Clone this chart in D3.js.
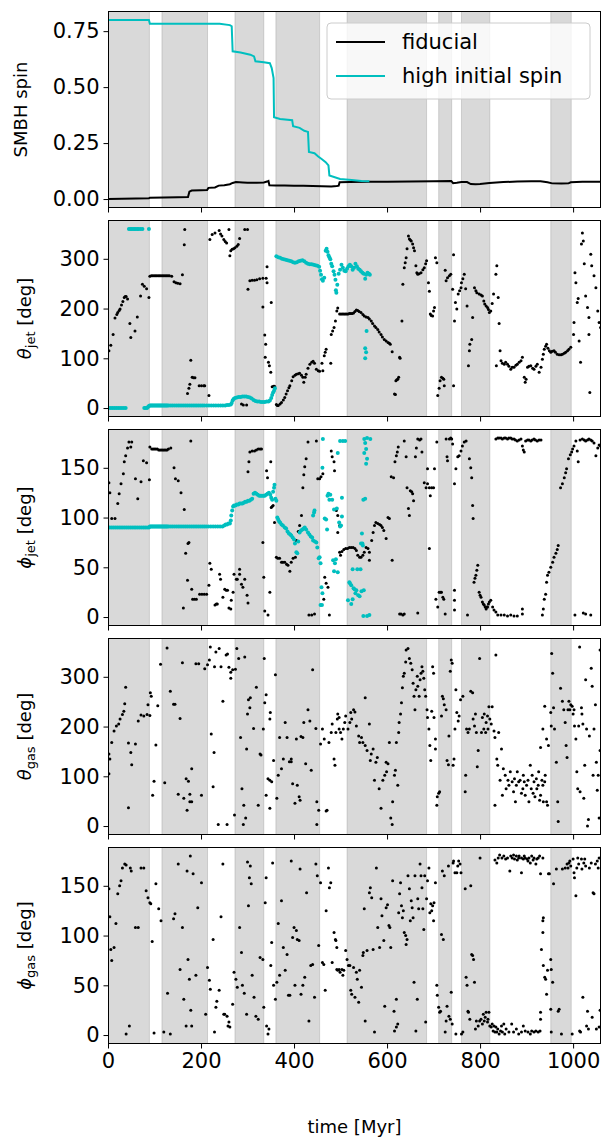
<!DOCTYPE html>
<html><head><meta charset="utf-8">
<script src="https://cdn.jsdelivr.net/npm/d3@7"></script>
<style>body{margin:0;background:#fff}svg{display:block}text{font-family:"DejaVu Sans",sans-serif}</style>
</head><body><svg id="c" width="615" height="1139"></svg>
<script>
const timeTicks=[0,200,400,600,800,1000];
const shadedSpans=[[0,89],[116,214],[273,335],[361,455],[514,685],[711,739],[760,821],[952,996]];

const spinFiducial=[[0,0.000],[30,0.001],[60,0.002],[88,0.003],[90,0.006],[120,0.007],[150,0.008],[172,0.009],[175,0.033],[180,0.038],[200,0.039],[213,0.040],[216,0.050],[230,0.052],[238,0.060],[250,0.062],[262,0.066],[268,0.072],[275,0.076],[290,0.074],[300,0.073],[320,0.073],[335,0.074],[342,0.078],[345,0.081],[347,0.062],[360,0.061],[380,0.060],[400,0.059],[420,0.059],[440,0.058],[460,0.057],[480,0.056],[492,0.058],[496,0.060],[498,0.075],[520,0.076],[560,0.077],[600,0.077],[650,0.078],[700,0.080],[738,0.081],[742,0.071],[750,0.073],[760,0.076],[772,0.076],[780,0.067],[790,0.066],[800,0.067],[820,0.072],[850,0.076],[880,0.078],[910,0.079],[930,0.079],[945,0.075],[955,0.070],[975,0.069],[990,0.070],[995,0.075],[1020,0.077],[1060,0.077]];
const spinHigh=[[0,0.800],[88,0.800],[90,0.783],[150,0.783],[200,0.783],[240,0.783],[262,0.777],[266,0.772],[268,0.660],[285,0.655],[306,0.645],[314,0.637],[317,0.615],[335,0.611],[348,0.607],[352,0.585],[356,0.540],[357,0.365],[370,0.358],[396,0.352],[398,0.325],[412,0.318],[422,0.305],[430,0.300],[432,0.210],[444,0.205],[452,0.190],[460,0.178],[468,0.165],[474,0.150],[476,0.105],[499,0.090],[524,0.085],[545,0.081],[562,0.080]];

const thetaJetFiducial=[[2,115],[6,126],[11,148],[15,181],[19,188],[21,192],[24,196],[26,199],[29,207],[32,214],[35,222],[37,224],[39,224],[42,219],[47,170],[49,142],[58,155],[63,183],[70,225],[74,249],[78,245],[83,240],[88,222],[90,265],[93,266],[96,266],[99,266],[102,266],[105,266],[108,266],[111,266],[114,266],[117,266],[120,266],[123,266],[126,266],[129,266],[132,266],[137,265],[142,254],[146,252],[150,251],[155,250],[160,268],[164,328],[165,359],[171,29],[174,40],[176,48],[178,96],[181,62],[184,61],[187,61],[196,45],[201,45],[206,45],[208,45],[217,25],[219,339],[224,349],[230,352],[239,357],[242,350],[245,346],[249,339],[252,335],[255,332],[260,359],[262,306],[264,316],[267,319],[270,320],[273,322],[277,325],[280,329],[283,341],[287,8],[291,6],[294,359],[298,6],[300,359],[301,239],[305,256],[310,257],[315,257],[320,258],[326,260],[333,261],[340,261],[342,252],[342,284],[333,203],[337,147],[339,128],[338,102],[345,92],[347,85],[350,72],[351,212],[353,43],[356,44],[358,44],[362,7],[364,5],[366,5],[370,8],[373,11],[377,16],[380,21],[383,28],[386,35],[389,41],[391,45],[395,55],[398,63],[402,66],[405,68],[409,69],[412,70],[416,66],[419,62],[421,52],[424,62],[426,68],[430,80],[434,88],[438,92],[441,94],[444,90],[448,78],[452,75],[455,74],[460,90],[462,75],[465,105],[467,112],[469,118],[479,90],[480,148],[483,155],[486,162],[489,175],[492,195],[494,201],[498,189],[501,189],[504,189],[507,189],[510,189],[513,189],[516,189],[519,190],[522,190],[525,190],[528,191],[531,194],[534,197],[537,196],[540,194],[544,192],[548,188],[551,185],[555,183],[559,182],[562,179],[566,175],[569,170],[573,165],[576,162],[580,158],[583,153],[587,148],[590,143],[594,138],[598,135],[602,132],[605,130],[607,128],[611,113],[616,28],[618,27],[619,55],[621,57],[623,58],[625,62],[627,102],[628,100],[632,175],[634,249],[637,282],[639,292],[641,302],[643,320],[646,346],[648,340],[650,338],[652,336],[655,330],[657,322],[659,316],[662,286],[664,272],[666,269],[669,270],[673,272],[677,278],[680,282],[683,290],[685,296],[689,252],[691,235],[693,189],[695,186],[698,185],[700,195],[702,202],[704,302],[707,292],[709,25],[712,40],[714,55],[717,62],[720,60],[722,58],[723,45],[725,277],[727,256],[730,262],[734,266],[737,269],[741,239],[743,308],[743,45],[745,175],[747,212],[750,199],[753,229],[756,236],[759,242],[760,252],[763,260],[766,269],[769,240],[772,205],[775,85],[777,115],[778,128],[782,138],[784,182],[788,242],[791,236],[793,232],[798,229],[802,227],[805,225],[808,215],[810,209],[813,205],[816,202],[818,198],[820,192],[823,195],[826,210],[829,229],[834,269],[836,286],[839,222],[841,170],[835,85],[843,115],[845,95],[848,90],[852,88],[855,92],[859,88],[862,84],[866,78],[869,82],[873,82],[877,86],[880,88],[884,92],[888,95],[891,102],[895,62],[897,52],[899,58],[902,82],[905,84],[909,85],[913,80],[916,78],[920,84],[923,88],[927,72],[931,82],[934,98],[936,108],[938,118],[941,124],[943,128],[946,120],[949,115],[952,112],[955,114],[959,115],[962,112],[966,108],[970,107],[974,107],[977,108],[981,110],[984,112],[988,115],[991,118],[995,122],[1001,148],[1002,172],[1004,272],[1006,252],[1009,212],[1011,220],[1013,135],[1016,92],[1018,330],[1020,352],[1022,336],[1024,290],[1027,225],[1031,202],[1034,182],[1034,148],[1036,31],[1038,309],[1040,286],[1045,266],[1049,242],[1053,195],[1056,172],[1059,162],[1062,41]];

const thetaJetHigh=[[2,0],[6,0],[10,0],[14,0],[18,0],[22,0],[26,0],[30,0],[34,0],[38,0],[45,360],[48,360],[51,360],[54,360],[57,360],[60,360],[63,360],[66,360],[70,360],[74,360],[88,360],[78,0],[81,0],[84,0],[86,2],[88,4],[90,5],[92,5],[94,5],[96,5],[98,5],[100,5],[102,5],[104,5],[106,5],[108,5],[110,5],[112,5],[114,5],[116,5],[118,5],[120,5],[122,5],[124,5],[126,5],[128,5],[131,5],[135,5],[139,5],[143,5],[147,5],[151,5],[155,5],[159,5],[163,5],[167,5],[171,5],[175,5],[179,5],[183,5],[187,5],[191,5],[195,5],[199,5],[203,5],[207,5],[212,5],[217,5],[222,5],[227,5],[232,5],[237,5],[242,5],[247,5],[252,5],[256,6],[260,6],[264,7],[266,10],[268,15],[270,18],[273,20],[277,21],[281,22],[285,22],[289,23],[293,23],[297,23],[301,22],[305,21],[309,19],[313,16],[317,14],[321,13],[325,13],[329,12],[333,12],[337,12],[341,13],[345,13],[348,15],[351,20],[353,26],[355,31],[357,35],[359,40],[362,305],[366,303],[370,302],[374,300],[378,299],[382,298],[386,297],[390,296],[394,295],[398,293],[402,292],[406,293],[410,295],[414,296],[418,297],[422,295],[426,292],[430,290],[434,289],[438,289],[442,288],[446,287],[450,286],[454,284],[456,276],[458,268],[460,259],[462,256],[465,262],[468,316],[470,320],[472,314],[474,307],[476,303],[478,299],[480,290],[482,285],[485,275],[487,268],[489,258],[490,237],[491,232],[493,248],[496,270],[499,278],[502,288],[505,282],[508,276],[511,275],[514,280],[517,285],[520,288],[523,285],[526,278],[529,282],[532,290],[535,285],[538,280],[541,278],[544,275],[547,272],[550,270],[553,260],[555,268],[558,272],[561,270],[563,268],[553,120],[553,100],[555,112],[556,155]];

const phiJetFiducial=[[2,135],[4,125],[8,99],[15,99],[21,114],[24,124],[28,134],[33,144],[35,156],[38,162],[42,170],[45,176],[49,171],[51,176],[59,139],[64,119],[71,136],[76,157],[83,155],[89,138],[90,171],[94,169],[97,169],[100,169],[103,169],[106,169],[109,168],[112,168],[115,168],[118,168],[121,168],[124,168],[127,168],[130,169],[135,170],[142,150],[145,139],[151,137],[157,125],[162,9],[164,108],[167,64],[171,37],[172,74],[174,75],[178,177],[180,28],[182,18],[186,18],[190,18],[197,23],[202,23],[207,23],[212,23],[217,32],[219,54],[222,48],[230,12],[233,13],[235,13],[240,43],[242,38],[247,20],[251,28],[254,27],[257,27],[260,9],[264,8],[265,17],[269,25],[271,43],[276,38],[278,38],[283,48],[283,43],[287,33],[290,30],[294,38],[299,22],[301,14],[301,146],[303,156],[305,166],[310,167],[315,167],[319,168],[323,169],[327,169],[330,169],[333,75],[335,40],[337,6],[341,147],[343,140],[344,2],[348,25],[350,156],[351,110],[353,111],[355,112],[358,95],[362,60],[365,59],[369,59],[373,55],[376,55],[380,55],[384,53],[387,52],[391,46],[394,55],[398,59],[403,60],[405,77],[409,86],[412,92],[416,102],[419,130],[421,143],[423,151],[426,159],[430,176],[432,2],[438,2],[444,3],[448,177],[451,139],[455,139],[458,141],[462,144],[464,18],[466,40],[469,34],[473,30],[476,2],[480,167],[482,161],[486,156],[487,147],[491,107],[494,102],[494,85],[498,92],[498,65],[500,62],[503,66],[507,68],[511,69],[515,69],[519,70],[523,70],[527,70],[531,69],[534,67],[537,62],[541,60],[544,60],[548,62],[551,65],[555,70],[559,69],[562,65],[562,57],[567,77],[570,85],[573,92],[576,95],[580,94],[584,93],[587,92],[590,90],[593,87],[598,79],[602,100],[605,99],[609,141],[611,57],[614,140],[617,156],[620,162],[622,166],[624,171],[627,3],[630,3],[634,2],[637,3],[637,177],[641,161],[643,130],[646,109],[648,102],[650,127],[653,126],[655,124],[657,117],[661,161],[663,170],[666,179],[666,4],[670,178],[673,179],[675,166],[680,135],[684,130],[687,134],[687,149],[691,130],[691,69],[693,122],[696,130],[700,130],[702,149],[705,18],[707,176],[709,10],[712,25],[715,25],[717,25],[720,20],[722,18],[725,3],[727,179],[729,161],[730,157],[734,179],[737,180],[739,179],[741,174],[745,27],[745,17],[745,7],[745,134],[748,149],[752,161],[755,162],[759,167],[762,172],[766,176],[770,177],[773,2],[777,159],[780,150],[782,140],[784,112],[785,99],[787,35],[789,39],[791,42],[793,47],[795,52],[798,25],[800,22],[802,20],[805,15],[807,13],[809,12],[811,10],[813,8],[815,10],[816,10],[818,13],[820,15],[823,17],[827,10],[830,7],[834,5],[838,2],[845,2],[852,2],[859,1],[866,2],[873,1],[880,1],[891,8],[891,3],[834,179],[838,180],[841,180],[845,180],[848,179],[852,180],[855,180],[859,179],[862,180],[866,180],[869,179],[873,179],[876,178],[880,177],[884,178],[888,179],[891,172],[893,168],[895,166],[898,177],[902,178],[905,178],[909,177],[912,178],[916,179],[919,178],[923,177],[927,178],[931,178],[934,2],[936,8],[938,18],[941,23],[943,35],[945,42],[948,45],[952,50],[956,55],[959,60],[963,64],[966,68],[968,72],[973,130],[977,134],[981,140],[984,145],[986,149],[990,159],[994,163],[997,166],[999,169],[1002,172],[1004,2],[1006,177],[1009,167],[1011,156],[1015,178],[1020,179],[1022,4],[1024,178],[1027,177],[1027,3],[1031,178],[1034,179],[1038,2],[1038,178],[1041,177],[1045,175],[1049,162],[1053,170],[1056,173],[1059,172],[1062,1]];

const phiJetHigh=[[0,90],[4,90],[8,90],[12,90],[16,90],[20,90],[24,90],[28,90],[32,90],[36,90],[40,90],[44,90],[48,90],[52,90],[56,90],[60,90],[64,90],[68,90],[72,90],[76,90],[80,90],[84,90],[88,90],[90,91],[92,91],[94,91],[96,91],[98,91],[100,91],[102,91],[104,91],[106,91],[108,91],[110,91],[112,91],[114,91],[116,91],[118,91],[120,91],[122,91],[124,91],[126,91],[128,91],[131,91],[135,91],[139,91],[143,91],[147,91],[151,91],[155,91],[159,91],[163,91],[167,91],[171,91],[175,91],[179,91],[183,91],[187,91],[191,91],[195,91],[199,91],[203,91],[207,91],[211,91],[216,91],[221,91],[226,91],[231,91],[236,91],[241,91],[246,91],[250,92],[253,93],[256,93],[259,94],[262,94],[264,97],[265,102],[267,107],[269,111],[271,112],[274,112],[277,113],[280,113],[283,114],[286,114],[289,114],[292,115],[295,116],[298,116],[301,117],[304,117],[307,118],[310,119],[313,124],[316,125],[319,124],[322,123],[325,122],[328,122],[331,122],[334,122],[337,122],[340,123],[343,124],[346,125],[349,123],[351,120],[353,118],[355,126],[357,130],[358,133],[360,119],[362,117],[364,100],[366,98],[368,96],[370,95],[373,93],[376,92],[380,90],[383,89],[386,86],[389,84],[392,83],[394,82],[397,80],[400,78],[402,74],[405,65],[407,64],[409,76],[412,85],[415,87],[418,88],[421,89],[423,90],[426,88],[430,85],[433,83],[436,81],[439,80],[441,102],[443,105],[444,107],[441,77],[445,76],[448,75],[450,70],[453,59],[455,60],[457,54],[459,30],[457,12],[460,12],[461,24],[461,150],[462,179],[466,99],[469,98],[471,88],[472,122],[474,124],[476,118],[478,123],[482,118],[484,57],[486,108],[486,46],[488,54],[490,58],[492,109],[494,45],[494,165],[497,95],[499,91],[499,177],[501,92],[503,101],[503,120],[505,177],[510,177],[516,17],[519,35],[520,34],[523,32],[523,13],[526,48],[526,18],[528,29],[530,28],[532,24],[534,27],[536,48],[538,22],[541,21],[543,48],[544,74],[545,26],[546,84],[547,74],[548,72],[549,1],[549,118],[550,27],[551,165],[551,179],[553,119],[553,175],[555,154],[555,169],[557,159],[557,180],[557,1],[562,2],[564,179]];

const thetaGas=[[2,145],[4,135],[2,105],[8,168],[13,191],[18,201],[23,205],[26,215],[31,224],[34,231],[36,246],[38,279],[44,37],[44,167],[49,148],[51,123],[59,165],[65,211],[71,223],[77,221],[84,224],[86,244],[91,268],[90,222],[93,261],[96,62],[99,90],[103,163],[107,242],[113,325],[122,87],[127,358],[134,271],[141,245],[144,245],[151,64],[155,216],[160,328],[163,56],[168,95],[170,32],[173,90],[176,64],[180,115],[176,49],[180,49],[189,326],[195,326],[201,62],[208,316],[214,324],[218,334],[220,360],[222,185],[226,79],[228,148],[229,320],[232,350],[239,357],[237,3],[243,320],[247,251],[254,344],[257,346],[256,3],[260,319],[264,309],[264,297],[268,314],[272,22],[274,315],[277,357],[281,337],[285,178],[288,75],[291,3],[292,42],[294,340],[296,16],[298,155],[300,225],[302,254],[305,238],[306,258],[313,196],[319,279],[323,42],[327,145],[329,143],[334,195],[337,248],[336,337],[340,264],[340,62],[344,95],[348,92],[348,215],[349,228],[352,89],[348,36],[356,132],[360,304],[363,56],[366,102],[369,178],[373,115],[377,135],[381,208],[385,178],[390,129],[394,129],[394,135],[397,85],[402,46],[405,175],[407,82],[411,59],[413,52],[415,180],[419,178],[421,208],[425,125],[430,234],[434,211],[437,112],[440,314],[447,196],[449,49],[449,3],[453,32],[457,165],[461,195],[465,175],[469,30],[471,32],[475,168],[480,188],[482,205],[486,135],[488,122],[490,188],[493,215],[494,225],[497,218],[497,195],[500,188],[503,175],[506,195],[509,208],[511,221],[516,195],[520,208],[522,228],[524,215],[528,234],[531,229],[534,201],[539,181],[541,168],[545,178],[548,168],[553,162],[553,258],[557,152],[562,205],[564,132],[566,145],[570,155],[573,92],[576,128],[579,138],[583,75],[587,36],[591,92],[595,102],[599,109],[598,128],[602,125],[605,168],[608,16],[611,3],[612,49],[616,102],[618,112],[623,82],[620,168],[625,188],[626,208],[629,225],[631,248],[633,278],[635,301],[637,307],[640,330],[641,354],[645,357],[648,337],[651,327],[654,314],[656,287],[658,261],[660,234],[662,274],[665,301],[666,281],[669,261],[671,294],[673,307],[675,320],[677,311],[679,297],[681,274],[683,261],[686,234],[687,218],[690,195],[692,162],[694,132],[696,231],[698,320],[700,307],[701,218],[704,175],[704,155],[707,42],[708,59],[711,66],[713,69],[717,221],[719,261],[721,256],[723,244],[727,234],[729,132],[732,123],[733,181],[736,311],[738,334],[740,327],[742,122],[744,135],[746,195],[748,274],[750,228],[753,211],[755,221],[758,254],[763,261],[768,69],[769,102],[771,195],[774,188],[777,195],[780,271],[784,268],[785,215],[788,201],[790,225],[792,188],[794,119],[796,152],[799,337],[803,188],[805,218],[808,195],[809,225],[812,188],[813,208],[816,221],[817,195],[819,240],[821,215],[824,205],[826,240],[830,191],[832,178],[834,344],[836,135],[838,122],[832,42],[840,188],[843,92],[846,155],[848,62],[850,115],[854,102],[856,75],[860,92],[862,82],[865,109],[869,89],[872,69],[874,95],[876,49],[878,82],[880,109],[883,89],[886,92],[889,66],[892,75],[893,102],[895,89],[897,62],[900,82],[903,92],[905,49],[908,122],[910,75],[912,102],[914,66],[916,89],[918,59],[921,95],[922,75],[925,82],[926,109],[928,52],[930,62],[933,92],[935,82],[936,49],[939,89],[940,102],[943,49],[945,42],[930,158],[935,195],[939,241],[943,175],[947,162],[952,228],[953,201],[954,347],[956,307],[958,238],[960,195],[964,128],[967,49],[968,9],[973,277],[977,251],[980,234],[983,208],[985,162],[987,138],[989,234],[991,251],[993,234],[995,244],[998,241],[1000,225],[1002,234],[1003,201],[1006,175],[1008,109],[1010,75],[1012,201],[1014,360],[1015,69],[1018,238],[1019,225],[1021,205],[1023,56],[1025,122],[1027,294],[1029,195],[1031,0],[1033,13],[1035,181],[1039,317],[1041,281],[1043,102],[1045,195],[1048,244],[1050,128],[1052,72],[1054,102],[1056,16],[1058,152],[1058,354]];

const phiGas=[[2,147],[4,119],[6,86],[8,75],[13,88],[17,112],[21,142],[25,150],[28,155],[31,168],[36,172],[39,171],[39,1],[46,9],[48,168],[50,165],[59,108],[65,108],[71,168],[77,168],[82,145],[86,138],[90,133],[92,132],[95,94],[99,2],[103,152],[109,127],[114,115],[120,3],[128,42],[134,1],[141,117],[144,122],[151,172],[155,66],[160,108],[163,36],[168,9],[170,165],[172,76],[175,56],[177,180],[178,25],[180,9],[183,162],[189,60],[193,128],[201,153],[210,21],[214,68],[218,55],[220,46],[226,96],[229,3],[232,28],[234,34],[239,45],[243,119],[247,172],[249,21],[251,21],[256,19],[258,9],[260,13],[262,8],[268,31],[271,63],[275,56],[278,48],[283,108],[287,83],[289,50],[293,42],[298,21],[300,174],[302,130],[304,158],[306,170],[308,152],[310,60],[314,38],[318,19],[323,16],[327,78],[333,76],[335,28],[338,133],[340,158],[341,9],[344,1],[346,6],[350,70],[352,93],[354,173],[356,50],[360,36],[363,53],[366,112],[369,60],[373,135],[377,88],[381,65],[385,81],[388,40],[391,40],[394,175],[397,98],[400,108],[402,50],[405,105],[407,96],[411,95],[413,167],[415,41],[419,50],[423,58],[427,143],[432,14],[436,70],[440,71],[444,38],[447,172],[450,160],[453,90],[457,153],[461,73],[464,71],[467,45],[469,125],[474,168],[476,148],[479,153],[482,73],[486,103],[489,96],[490,95],[492,88],[492,66],[494,65],[497,66],[499,63],[503,66],[505,60],[507,65],[511,85],[514,76],[517,70],[520,70],[522,45],[524,41],[528,68],[531,38],[534,63],[536,56],[539,33],[541,65],[545,48],[548,80],[549,83],[551,127],[553,14],[557,85],[562,143],[564,148],[567,138],[570,86],[573,3],[577,168],[580,108],[584,88],[587,137],[589,120],[593,95],[595,29],[598,128],[601,131],[604,110],[606,108],[608,88],[612,155],[615,24],[616,4],[620,8],[623,11],[620,36],[625,123],[627,142],[629,153],[631,130],[633,118],[635,125],[637,103],[640,100],[641,91],[643,96],[645,160],[648,147],[650,115],[652,135],[654,128],[656,118],[658,53],[660,160],[662,4],[665,36],[666,137],[668,127],[671,172],[673,160],[675,148],[677,127],[679,106],[681,160],[683,13],[685,137],[687,155],[690,168],[692,123],[694,132],[696,125],[698,130],[700,115],[701,133],[704,153],[707,50],[708,40],[711,28],[713,23],[715,24],[717,101],[719,165],[721,96],[723,160],[725,3],[727,14],[729,29],[732,170],[733,19],[736,16],[738,43],[740,11],[742,173],[743,175],[746,163],[748,1],[750,163],[752,170],[754,175],[757,172],[759,163],[760,1],[763,3],[768,147],[770,58],[772,50],[774,24],[775,23],[778,16],[780,150],[782,81],[784,80],[786,76],[788,53],[790,6],[792,14],[796,9],[799,14],[800,178],[802,16],[805,11],[807,21],[809,14],[811,18],[813,23],[816,13],[817,16],[819,23],[821,9],[824,8],[826,11],[828,4],[830,9],[832,3],[834,8],[836,3],[838,6],[841,1],[844,4],[846,9],[848,3],[851,11],[853,1],[856,6],[862,3],[868,11],[872,3],[878,6],[883,1],[889,3],[893,9],[897,4],[903,3],[908,1],[911,4],[916,3],[920,4],[925,3],[929,4],[832,176],[836,173],[839,178],[842,181],[847,178],[851,180],[855,177],[859,178],[864,165],[866,180],[869,178],[872,181],[874,177],[878,180],[880,176],[883,178],[884,180],[889,163],[889,178],[893,177],[895,180],[897,178],[901,177],[903,175],[905,178],[908,173],[911,180],[914,176],[916,178],[920,172],[922,177],[925,178],[928,180],[930,162],[935,178],[930,23],[930,16],[932,86],[935,115],[936,118],[935,103],[936,70],[939,58],[941,56],[943,41],[945,65],[947,162],[949,162],[952,76],[953,66],[956,53],[952,26],[953,3],[958,152],[964,167],[968,24],[970,26],[975,1],[977,167],[983,168],[987,172],[989,168],[991,173],[993,175],[995,170],[998,1],[1000,177],[1002,163],[1003,158],[1006,140],[1008,168],[1010,178],[1012,172],[1014,4],[1016,3],[1018,177],[1019,167],[1021,38],[1023,173],[1025,177],[1027,170],[1029,9],[1031,24],[1033,6],[1035,168],[1039,173],[1041,18],[1043,143],[1045,142],[1048,172],[1050,6],[1052,175],[1054,168],[1056,178],[1058,25],[1056,8]];

const seriesNames=["fiducial","high initial spin"];
const seriesColors=["#000000","#00bfbf"];

const svg=d3.select("#c");
const x=d3.scaleLinear().domain([0,1060]).range([108,601]);
const top0=11, pH=197, pStep=209;

const panels=[
 {domain:[-0.04,0.84],ticks:[0,0.25,0.5,0.75],fmt:d3.format(".2f"),label:[{t:"SMBH spin"}],lx:27,lines:[spinFiducial,spinHigh]},
 {domain:[-18,378],ticks:[0,100,200,300],fmt:d3.format("d"),label:[{t:"θ",it:1},{t:"jet",sub:1},{t:" [deg]"}],lx:31,dots:[thetaJetFiducial,thetaJetHigh]},
 {domain:[-9,189],ticks:[0,50,100,150],fmt:d3.format("d"),label:[{t:"ϕ",it:1},{t:"jet",sub:1},{t:" [deg]"}],lx:31,dots:[phiJetFiducial,phiJetHigh]},
 {domain:[-18,378],ticks:[0,100,200,300],fmt:d3.format("d"),label:[{t:"θ",it:1},{t:"gas",sub:1},{t:" [deg]"}],lx:31,dots:[thetaGas]},
 {domain:[-9,189],ticks:[0,50,100,150],fmt:d3.format("d"),label:[{t:"ϕ",it:1},{t:"gas",sub:1},{t:" [deg]"}],lx:31,dots:[phiGas]}
];

panels.forEach((p,i)=>{
  const top=top0+i*pStep, bot=top+pH;
  const y=d3.scaleLinear().domain(p.domain).range([bot,top]);
  const g=svg.append("g");
  const cid="clip"+i;
  svg.append("clipPath").attr("id",cid).append("rect").attr("x",108).attr("y",top).attr("width",493).attr("height",pH);
  const inner=g.append("g").attr("clip-path","url(#"+cid+")");
  inner.selectAll("rect.span").data(shadedSpans).join("rect")
    .attr("x",d=>x(d[0])).attr("width",d=>x(d[1])-x(d[0]))
    .attr("y",top-5).attr("height",pH+10)
    .attr("fill","#808080").attr("fill-opacity",0.3)
    .attr("stroke","#808080").attr("stroke-opacity",0.3).attr("stroke-width",1);
  if(p.lines){
    const line=d3.line().x(d=>x(d[0])).y(d=>y(d[1]));
    p.lines.forEach((s,k)=>{
      inner.append("path").datum(s).attr("d",line).attr("fill","none")
        .attr("stroke",seriesColors[k]).attr("stroke-width",2);
    });
  }
  if(p.dots){
    p.dots.forEach((s,k)=>{
      inner.append("g").selectAll("circle").data(s).join("circle")
        .attr("cx",d=>x(d[0])).attr("cy",d=>y(d[1]))
        .attr("r",k?2.0:1.5).attr("fill",seriesColors[k]);
    });
  }
  g.append("rect").attr("x",108.5).attr("y",top+0.5).attr("width",492).attr("height",pH-1)
    .attr("fill","none").attr("stroke","#000").attr("stroke-width",1);
  const ya=g.append("g").attr("transform","translate(108.5,0)")
    .call(d3.axisLeft(y).tickValues(p.ticks).tickFormat(p.fmt).tickSize(5).tickPadding(4));
  ya.select(".domain").remove();
  ya.selectAll("text").attr("font-size","21px").attr("font-family","DejaVu Sans").attr("fill","#000");
  ya.selectAll("line").attr("stroke","#000");
  const last=i===panels.length-1;
  const xa=g.append("g").attr("transform","translate(0,"+(bot-0.5)+")")
    .call(d3.axisBottom(x).tickValues(timeTicks).tickSize(5).tickPadding(5).tickFormat(last?d3.format("d"):()=>""));
  xa.select(".domain").remove();
  xa.selectAll("text").attr("font-size","21px").attr("font-family","DejaVu Sans").attr("fill","#000");
  xa.selectAll("line").attr("stroke","#000");
  const cy=(top+bot)/2;
  const lt=g.append("text").attr("transform","translate("+p.lx+","+cy+") rotate(-90)")
    .attr("text-anchor","middle").attr("font-size","18px").attr("fill","#000");
  p.label.forEach(s=>{
    const ts=lt.append("tspan").text(s.t);
    if(s.it) ts.attr("font-style","italic");
    if(s.sub) ts.attr("font-size","13px").attr("dy","4");
    else if(lt.selectAll("tspan").size()>1 && !s.it) ts.attr("dy","-4");
  });
  if(i===0){
    const lg=g.append("g");
    lg.append("rect").attr("x",327).attr("y",23).attr("width",263).attr("height",76).attr("rx",4)
      .attr("fill","#fff").attr("fill-opacity",0.8).attr("stroke","#cccccc");
    seriesNames.forEach((n,k)=>{
      const yy=42+k*34;
      lg.append("line").attr("x1",336).attr("x2",385).attr("y1",yy).attr("y2",yy)
        .attr("stroke",seriesColors[k]).attr("stroke-width",2);
      lg.append("text").attr("x",402).attr("y",yy).attr("dy","0.35em").attr("font-size","21px").attr("fill","#000").text(n);
    });
  }
});

svg.append("text").attr("x",354.5).attr("y",1133).attr("text-anchor","middle")
  .attr("font-size","18px").attr("fill","#000").text("time [Myr]");
</script></body></html>
